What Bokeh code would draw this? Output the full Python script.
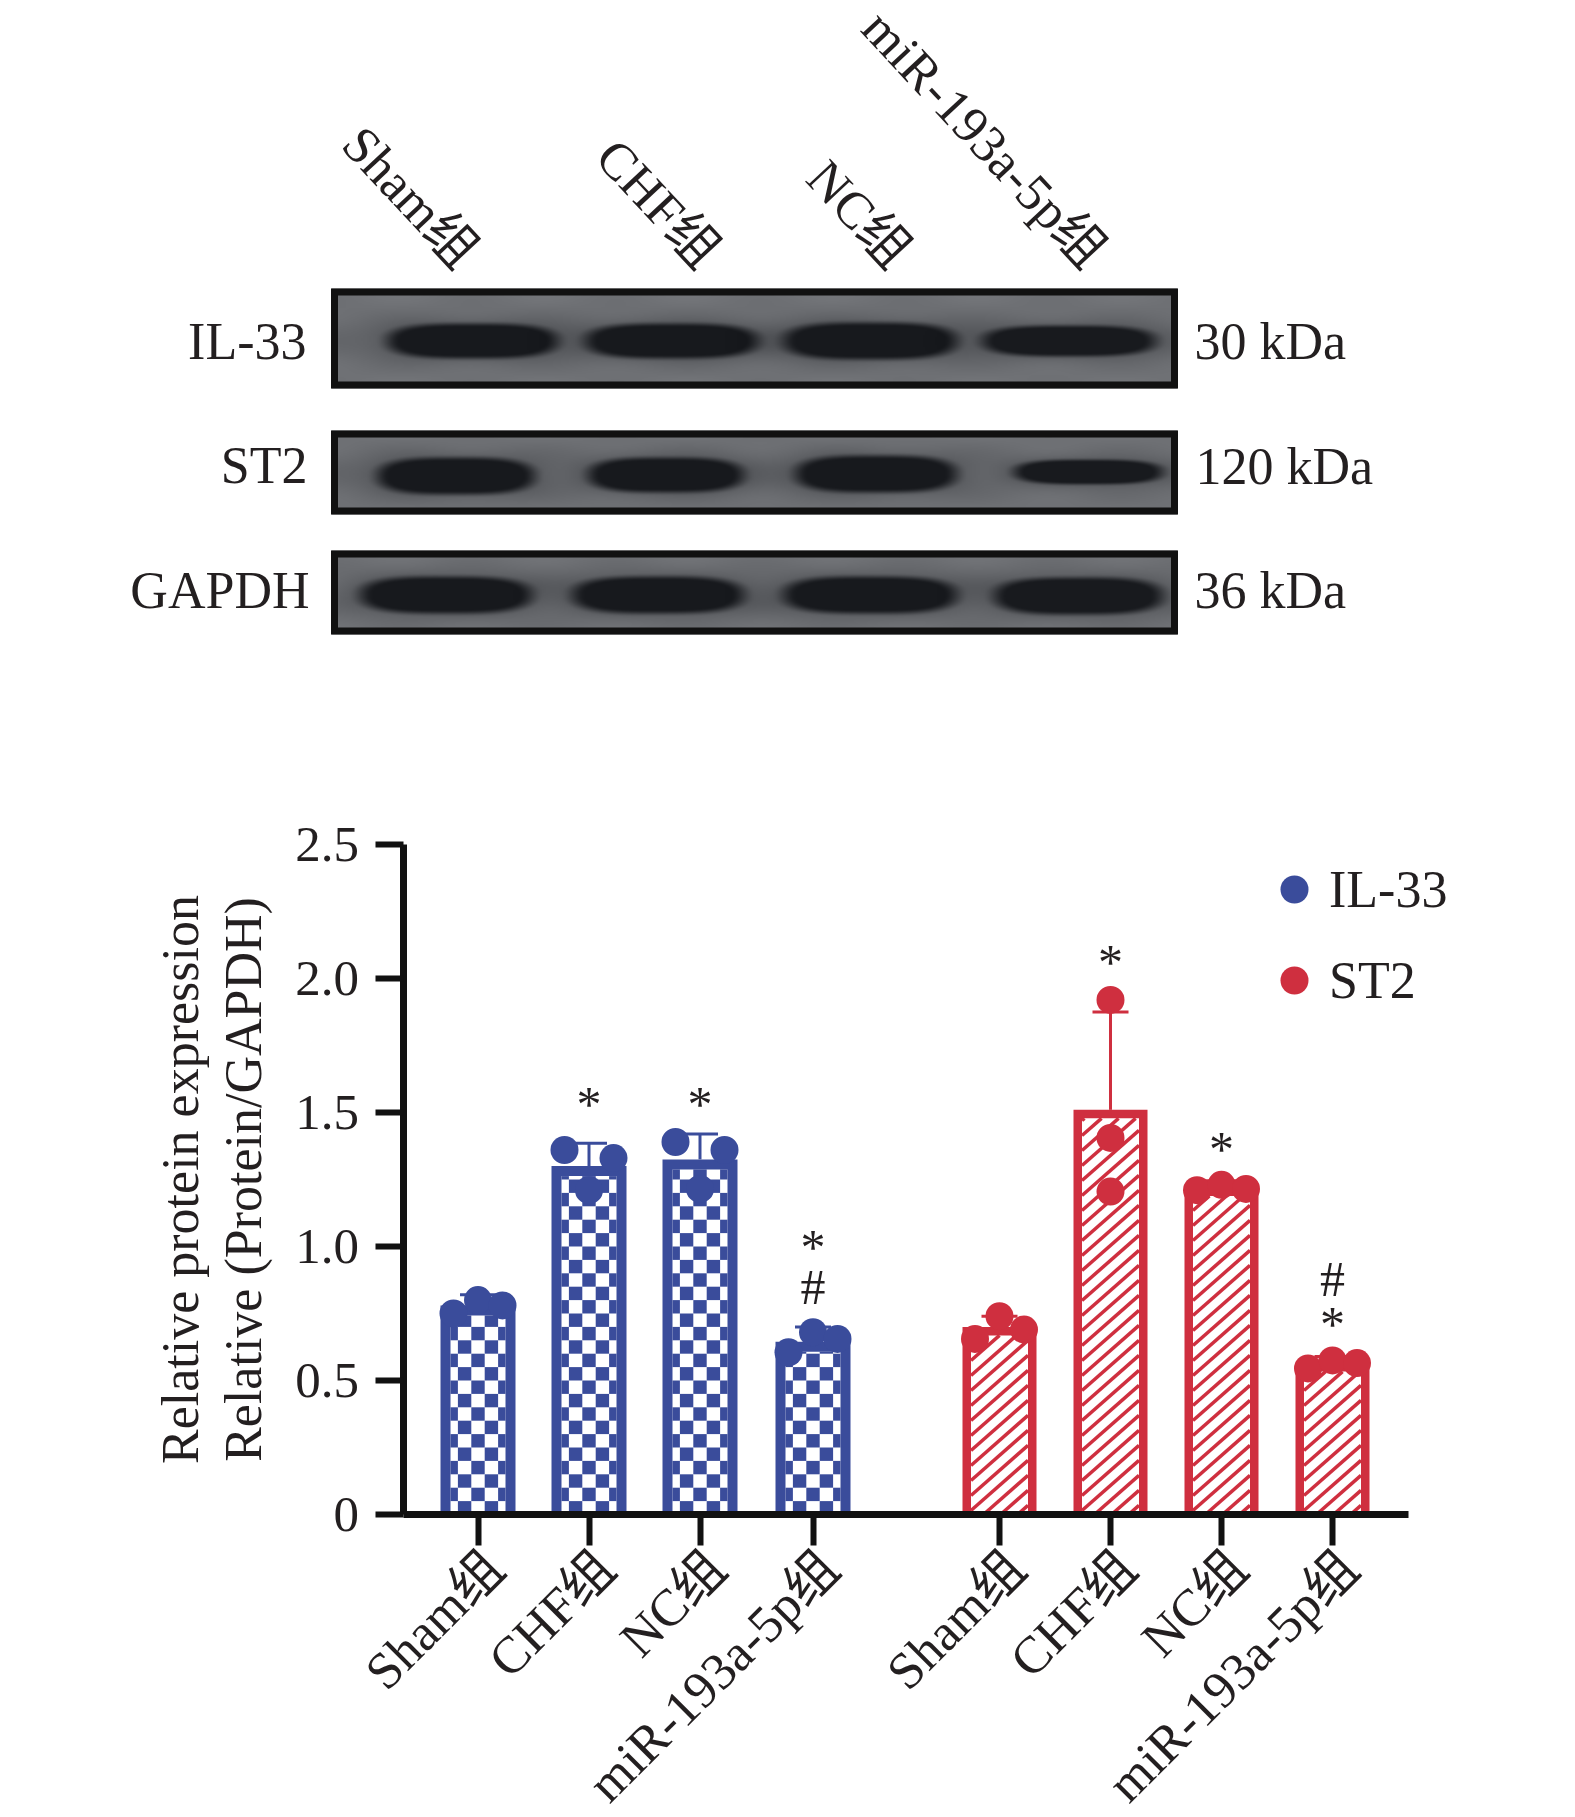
import math
import numpy as np
from bokeh.core.properties import value
from bokeh.embed import file_html
from bokeh.models import (ColumnDataSource, FixedTicker, Legend, LegendItem, LinearAxis,
                          TeeHead, Whisker)
from bokeh.plotting import figure
from bokeh.resources import INLINE

# ---------- data ----------
groups = ["Sham组", "CHF组", "NC组", "miR-193a-5p组"]
y_ticks = [0, 0.5, 1.0, 1.5, 2.0, 2.5]
y_tick_labels = {0: "0", 0.5: "0.5", 1: "1.0", 1.5: "1.5", 2: "2.0", 2.5: "2.5"}

il33_bar = [0.78, 1.30, 1.325, 0.645]
st2_bar = [0.70, 1.51, 1.22, 0.565]
il33_err = [0.82, 1.385, 1.42, 0.70]
st2_err = [0.74, 1.875, 1.245, 0.59]
il33_pts = [[0.75, 0.80, 0.78], [1.36, 1.21, 1.33], [1.39, 1.215, 1.36], [0.605, 0.68, 0.655]]
st2_pts = [[0.655, 0.74, 0.69], [1.92, 1.405, 1.205], [1.21, 1.23, 1.215], [0.545, 0.575, 0.565]]
il33_marks = [(1, 1.53, "*"), (2, 1.53, "*"), (3, 1.0, "*"), (3, 0.85, "#")]
st2_marks = [(1, 2.06, "*"), (2, 1.365, "*"), (3, 0.88, "#"), (3, 0.71, "*")]

blot_names = ["IL-33", "ST2", "GAPDH"]
blot_sizes = ["30 kDa", "120 kDa", "36 kDa"]

# ---------- styles ----------
FONT = "Liberation Serif, Noto Sans CJK SC"
INK = "#231f20"
AXIS = "#111111"
BLUE = "#3a4c9b"
RED = "#cf2f3f"
FS = "52px"
PAGE_W, TOP_H, BOT_H = 1559, 690, 1127

# ---------- top: western blot panels ----------
top = figure(width=PAGE_W, height=TOP_H, x_range=(0, PAGE_W), y_range=(-TOP_H, 0),
             toolbar_location=None, output_backend="svg", min_border=0,
             outline_line_color=None, x_axis_location=None, y_axis_location=None)
top.grid.visible = False

BX0, BX1 = 331, 1177
panels = [(288, 388), (430, 514), (550, 634)]
band_rows = [
    [(387, 555, 340, 17), (585, 755, 340, 17), (783, 954, 340, 18), (982, 1153, 340, 15)],
    [(377, 532, 475, 18), (588, 741, 474, 17), (795, 954, 473, 18), (1014, 1160, 471, 12)],
    [(360, 529, 594, 18), (572, 741, 594, 18), (783, 954, 594, 18), (994, 1160, 595, 18)],
]
for (py0, py1), bands in zip(panels, band_rows):
    xs = np.arange(BX0, BX1, 2.0)
    ys = np.arange(py0, py1, 1.0)
    X, Y = np.meshgrid(xs, ys)
    img = 114 - 10 * np.exp(-((Y - (py0 + py1) / 2) / 30) ** 2) + 3 * np.sin(X / 23) * np.sin(Y / 7)
    for x0, x1, cy, hh in bands:
        cx, hw = (x0 + x1) / 2, (x1 - x0) / 2
        d = (np.abs((X - cx) / hw) ** 3.2 + np.abs((Y - cy) / hh) ** 2.4) ** (1 / 2.4)
        t = np.clip((1.22 - d) / 0.4, 0, 1)
        t = t * t * (3 - 2 * t)
        halo = np.exp(-np.clip(d - 1, 0, None) * 3) * 22
        img = img - halo * (1 - t)
        img = img * (1 - t) + 24 * t
    img = np.clip(img, 0, 250)
    rgba = np.zeros(img.shape, dtype=np.uint32)
    v = rgba.view(dtype=np.uint8).reshape((*img.shape, 4))
    v[..., 0] = img.astype(np.uint8)
    v[..., 1] = (img + 2).astype(np.uint8)
    v[..., 2] = (img + 6).astype(np.uint8)
    v[..., 3] = 255
    top.image_rgba(image=[rgba[::-1]], x=BX0, y=-py1, dw=BX1 - BX0, dh=py1 - py0)
    top.quad(left=BX0 + 3, right=BX1 - 3, top=-(py0 + 3.5), bottom=-(py1 - 3.5), fill_color=None,
             line_color="#111111", line_width=7, line_join="miter")

top.text(x=[306, 307, 309], y=[-341, -465, -590], text=blot_names, text_font=value(FONT),
         text_font_size=FS, text_color=INK, text_align="right", text_baseline="middle")
top.text(x=[1194, 1195, 1194], y=[-341, -465.5, -589.5], text=blot_sizes, text_font=value(FONT),
         text_font_size=FS, text_color=INK, text_align="left", text_baseline="middle")
top.text(x=[468, 710, 901, 1096], y=[-259, -259, -259, -259], text=groups, text_font=value(FONT),
         text_font_size=FS, text_color=INK, text_align="right", text_baseline="middle",
         angle=-math.radians(47))

# ---------- bottom: bar chart (its plot area fills the figure; axes sit inside it) ----------
UNIT = 111.0          # px per category step
X0_PX = 477.5         # page x of the first category
GAP = 521.5 / UNIT    # start of the second group
AX_L, AX_R, AX_T, AX_B = 402.5, 1408, 844, 1514   # page px of the axis lines
PX_Y = (AX_B - AX_T) / 2.5
x_left = (AX_L - X0_PX) / UNIT
x_right = (AX_R - X0_PX) / UNIT

p = figure(width=PAGE_W, height=BOT_H, toolbar_location=None, output_backend="svg",
           x_range=(-X0_PX / UNIT, (PAGE_W - X0_PX) / UNIT),
           y_range=((AX_B - TOP_H - BOT_H) / PX_Y, (AX_B - TOP_H) / PX_Y),
           outline_line_color=None, min_border=0,
           x_axis_location=None, y_axis_location=None)
p.grid.visible = False

xa = [float(i) for i in range(4)]
xa[3] += 2 / UNIT
xb = [i + GAP for i in range(4)]
JIT = 24.5 / UNIT


def checks(xs, bars, border, color, outer, cell=13.4):
    """Checker fill of each bar, built from the bar's own value."""
    half = (outer / 2 - border) / UNIT
    cw, ch = cell / UNIT, cell / PX_Y
    L, R, B, T = [], [], [], []
    for x, b in zip(xs, bars):
        topv = b - border / PX_Y
        for i in range(int(topv / ch) + 1):
            for j in range(-3, 4):
                if (i + j) % 2 == 0:
                    continue
                x0 = max(x + (j - 0.5) * cw, x - half)
                x1 = min(x + (j + 0.5) * cw, x + half)
                if x1 > x0:
                    L.append(x0); R.append(x1)
                    B.append(i * ch); T.append(min((i + 1) * ch, topv))
    p.quad(left=L, right=R, bottom=B, top=T, fill_color=color, line_color=None)


def stripes(xs, bars, border, color, outer, pitch=15.0, slope=0.88):
    """Rising diagonal fill of each bar, clipped to the inside of the bar."""
    w = outer - 2 * border
    x0s, y0s, x1s, y1s = [], [], [], []
    for x, b in zip(xs, bars):
        h = (b * PX_Y) - border
        k = -math.ceil(slope * w / pitch)
        while k * pitch < h:
            c = k * pitch + 4
            a0 = max(0.0, -c / slope)
            a1 = min(w, (h - c) / slope)
            if a1 > a0:
                left = x - w / 2 / UNIT
                x0s.append(left + a0 / UNIT); y0s.append((c + slope * a0) / PX_Y)
                x1s.append(left + a1 / UNIT); y1s.append((c + slope * a1) / PX_Y)
            k += 1
    p.segment(x0s, y0s, x1s, y1s, line_color=color, line_width=3.5)


def series(xs, bars, errs, pts, color, border, outer, marks, fill, flat=None):
    # solid bar, then a white inner bar: sides and top stay coloured, the base stays open
    p.vbar(x=xs, top=bars, bottom=0, width=outer / UNIT, fill_color=color, line_color=None)
    p.vbar(x=xs, top=[b - border / PX_Y for b in bars], bottom=0,
           width=(outer - 2 * border) / UNIT, fill_color="white", line_color=None)
    fill(xs, bars, border, color, outer)
    src = ColumnDataSource(dict(x=xs, base=bars, up=errs))
    w = Whisker(source=src, base="x", upper="up", lower="base", dimension="height",
                line_color=color, line_width=3, lower_head=None,
                upper_head=TeeHead(size=36, line_color=color, line_width=3))
    p.add_layout(w)
    px, py = [], []
    for i, (x, vals) in enumerate(zip(xs, pts)):
        for k, val in enumerate(vals):
            px.append(x + (0 if flat == i else (k - 1) * JIT))
            py.append(val)
    r = p.scatter(px, py, size=28, marker="circle", fill_color=color, line_color=color, line_width=0)
    p.text(x=[xs[m[0]] for m in marks], y=[m[1] for m in marks], text=[m[2] for m in marks],
           text_font=value(FONT), text_font_size="50px", text_color=INK, text_align="center",
           text_baseline="middle")
    return r


r_il = series(xa, il33_bar, il33_err, il33_pts, BLUE, 10, 75, il33_marks, checks)
r_st = series(xb, st2_bar, st2_err, st2_pts, RED, 8.5, 74, st2_marks, stripes, flat=1)

# y axis
ya = LinearAxis(ticker=FixedTicker(ticks=y_ticks), major_label_overrides=y_tick_labels,
                fixed_location=x_left, bounds=(0, 2.5),
                axis_line_color=AXIS, axis_line_width=7, major_tick_line_color=AXIS,
                major_tick_line_width=6, major_tick_in=0, major_tick_out=28,
                minor_tick_line_color=None, major_label_text_font=FONT,
                major_label_text_font_size="51px", major_label_text_color=INK,
                major_label_standoff=16,
                axis_label="Relative protein expression\nRelative (Protein/GAPDH)",
                axis_label_text_font=FONT, axis_label_text_font_size=FS,
                axis_label_text_font_style="normal", axis_label_text_color=INK,
                axis_label_text_line_height=1.1, axis_label_standoff=21)
p.add_layout(ya, "left")

# x axis: tick marks
pos = xa + xb
ax = LinearAxis(ticker=FixedTicker(ticks=pos), major_label_overrides={t: "" for t in pos},
                fixed_location=0, bounds=(x_left, x_right),
                axis_line_color=AXIS, axis_line_width=7, major_tick_line_color=AXIS,
                major_tick_line_width=6, major_tick_in=0, major_tick_out=31,
                minor_tick_line_color=None, major_label_standoff=0,
                major_label_text_font_size="1px")
p.add_layout(ax, "below")

# x axis: slanted labels whose right ends sit a little to the right of the ticks
LBL = 17 / UNIT
lpos = [t + LBL for t in pos]
lx = LinearAxis(ticker=FixedTicker(ticks=lpos), fixed_location=0,
                major_label_overrides={t: g for t, g in zip(lpos, groups + groups)},
                axis_line_color=None, major_tick_line_color=None, minor_tick_line_color=None,
                major_label_orientation=math.pi / 4, major_label_text_font=FONT,
                major_label_text_font_size=FS, major_label_text_color=INK,
                major_label_standoff=39)
p.add_layout(lx, "below")

# legend
leg = Legend(items=[LegendItem(label="IL-33", renderers=[r_il]),
                    LegendItem(label="ST2", renderers=[r_st])],
             location=(1259, 802), orientation="vertical", glyph_width=70, glyph_height=70,
             label_standoff=0, spacing=21, padding=0, margin=0,
             background_fill_alpha=0, border_line_color=None,
             label_text_font=FONT, label_text_font_size=FS, label_text_color=INK)
p.add_layout(leg, "center")

open("out.html", "w").write(file_html([top, p], INLINE))
